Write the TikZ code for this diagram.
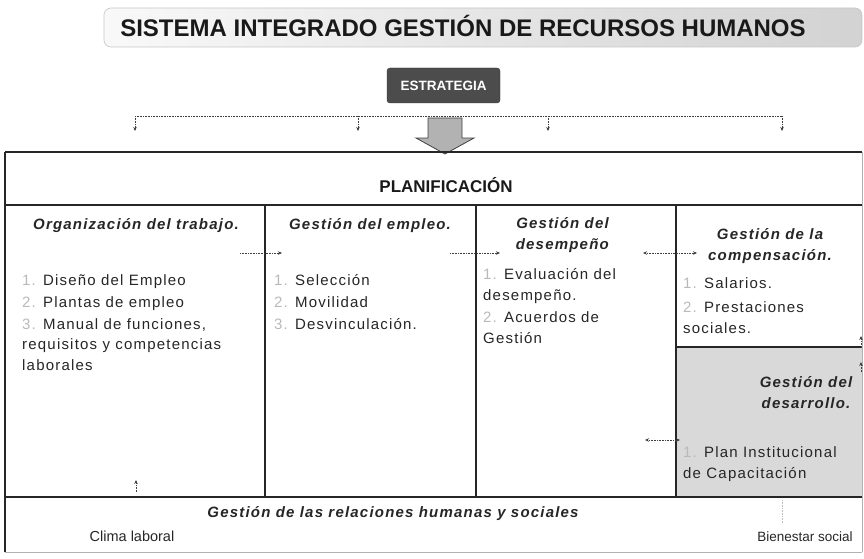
\documentclass[tikz,border=0pt]{standalone}
\usepackage{fontspec}
\setmainfont{Liberation Sans}
\newfontfamily\spacedfont[LetterSpace=8]{Liberation Sans}
\usetikzlibrary{arrows.meta}
\newcommand\itnum[1]{\textcolor{gray!55}{#1}}
\tikzset{
  itemtxt/.style={anchor=base west, inner sep=0pt, align=left, text=black!85,
    font={\spacedfont\fontsize{15}{20.5}\selectfont}},
  headtxt/.style={anchor=base, inner sep=0pt, align=center, text=black!85,
    font={\spacedfont\fontsize{15}{20.5}\selectfont\bfseries\itshape}},
  plaintxt/.style={anchor=base, inner sep=0pt, align=center, text=black!85,
    font={\fontsize{14.5}{18}\selectfont}},
  dotarr/.style={densely dotted, gray!50!black, line width=0.6pt, -{Stealth[length=4pt,width=3.5pt]}},
  dotarrr/.style={densely dotted, gray!50!black, line width=0.6pt, {Stealth[length=4pt,width=3.5pt]}-{Stealth[length=4pt,width=3.5pt]}},
  dotline/.style={densely dotted, gray!50!black, line width=0.6pt},
  frameline/.style={line width=1.6pt, black!85},
}
\begin{document}
\begin{tikzpicture}[x=1pt,y=-1pt]
\useasboundingbox (0,0) rectangle (864,559);
% banner
\shade[left color=gray!5, right color=gray!35, rounded corners=7pt] (104,8) rectangle (862,47);
\draw[gray!45, line width=0.6pt, rounded corners=7pt] (104,8) rectangle (862,47);
\node[anchor=base, inner sep=0pt, font={\fontsize{24}{28}\selectfont\bfseries}, text=black!90] (title) at (463,37) {SISTEMA INTEGRADO GESTIÓN DE RECURSOS HUMANOS};
% estrategia
\node[fill=black!70, draw=black!80, rounded corners=3pt, minimum width=113pt, minimum height=35pt, inner sep=0pt, text=white, font={\fontsize{13.5}{15}\selectfont\bfseries}] (estr) at (443.5,85.5) {ESTRATEGIA};
% dotted distribution
\coordinate (d1) at (135,116);
\coordinate (d2) at (358,116);
\coordinate (d3) at (548,116);
\coordinate (d4) at (782,116);
\coordinate (e1) at (135,131);
\coordinate (e2) at (358,131);
\coordinate (e3) at (548,131);
\coordinate (e4) at (782,131);
\draw[dotline] (d1) -- (d4);
\draw[dotarr] (d1) -- (e1);
\draw[dotarr] (d2) -- (e2);
\draw[dotarr] (d3) -- (e3);
\draw[dotarr] (d4) -- (e4);
% block arrow
\draw[fill=gray!60, draw=black!75, line width=0.8pt] (428,118) -- (462,118) -- (462,138) -- (474,138) -- (445,154) -- (416,138) -- (428,138) -- cycle;
% frame
\fill[gray!30] (676,347) rectangle (862,497);
\draw[frameline] (5,152) -- (862,152);
\draw[line width=1.2pt, black!85] (5,152) -- (5,552);
\draw[line width=0.8pt, gray!60] (5,552) -- (862,552);
\draw[line width=0.8pt, gray!60] (862,152) -- (862,552);
\draw[frameline] (5,205) -- (862,205);
\draw[frameline] (5,497) -- (862,497);
\draw[frameline] (265,205) -- (265,497);
\draw[frameline] (476,205) -- (476,497);
\draw[frameline] (676,205) -- (676,497);
\draw[frameline] (676,347) -- (862,347);
\node[anchor=base, inner sep=0pt, font={\fontsize{17}{20}\selectfont\bfseries}, text=black!90] (plan) at (446,192) {PLANIFICACIÓN};
% headings (base anchor = last line)
\node[headtxt] (h1) at (136,229) {Organización del trabajo.};
\node[headtxt] (h2) at (370,229) {Gestión del empleo.};
\node[headtxt, anchor=base east, align=right] (h3) at (609,249) {Gestión del\\desempeño};
\node[headtxt] (h4) at (770,260) {Gestión de la\\compensación.};
\node[headtxt] (h5) at (806,408) {Gestión del\\desarrollo.};
% items
\node[itemtxt] (a1) at (22,285) {\itnum{1.} Diseño del Empleo};
\node[itemtxt] (a2) at (22,307) {\itnum{2.} Plantas de empleo};
\node[itemtxt] (a3) at (22,370) {\itnum{3.} Manual de funciones,\\requisitos y competencias\\laborales};
\node[itemtxt] (b1) at (274,285) {\itnum{1.} Selección};
\node[itemtxt] (b2) at (274,307) {\itnum{2.} Movilidad};
\node[itemtxt] (b3) at (274,329) {\itnum{3.} Desvinculación.};
\node[itemtxt] (c1) at (483,300) {\itnum{1.} Evaluación del\\desempeño.};
\node[itemtxt] (c2) at (483,343) {\itnum{2.} Acuerdos de\\Gestión};
\node[itemtxt] (f1) at (683,288) {\itnum{1.} Salarios.};
\node[itemtxt] (f2) at (683,333) {\itnum{2.} Prestaciones\\sociales.};
\node[itemtxt] (g1) at (683,478) {\itnum{1.} Plan Institucional\\de Capacitación};
% bottom
\node[headtxt] (rel) at (393,517) {Gestión de las relaciones humanas y sociales};
\node[plaintxt] (clima) at (132,541) {Clima laboral};
\node[plaintxt, font={\fontsize{13.5}{16}\selectfont}] (bien) at (805,541) {Bienestar social};
% dotted arrows between columns
\coordinate (p1) at (240,253);
\coordinate (p2) at (282,253);
\coordinate (p3) at (450,253);
\coordinate (p4) at (500,253);
\coordinate (p5) at (643,253);
\coordinate (p6) at (697,253);
\coordinate (p7) at (645,440);
\coordinate (p8) at (680,440);
\draw[dotarr] (p1) -- (p2);
\draw[dotarr] (p3) -- (p4);
\draw[dotarrr] (p5) -- (p6);
\draw[dotarrr] (p7) -- (p8);
% small stray arrows
\coordinate (q1) at (136,492);
\coordinate (q2) at (136,480);
\coordinate (q3) at (861,348);
\coordinate (q4) at (861,336);
\coordinate (q5) at (861,372);
\coordinate (q6) at (861,362);
\coordinate (q7) at (782,500);
\coordinate (q8) at (782,524);
\draw[dotarr] (q1) -- (q2);
\draw[dotarr] (q3) -- (q4);
\draw[dotarr] (q5) -- (q6);
\draw[dotline, gray!50] (q7) -- (q8);
\end{tikzpicture}
\end{document}
